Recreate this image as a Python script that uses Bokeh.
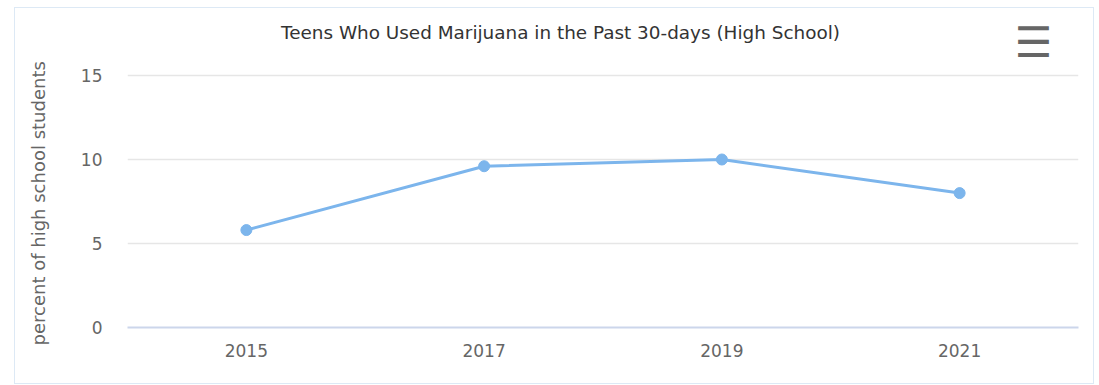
from bokeh.plotting import figure
from bokeh.models import ColumnDataSource, FixedTicker, Label, Range1d, Title
from bokeh.embed import file_html
from bokeh.resources import INLINE

years = ["2015", "2017", "2019", "2021"]
percent = [5.8, 9.6, 10.0, 8.0]
y_ticks = [0, 5, 10, 15]
title_text = "Teens Who Used Marijuana in the Past 30-days (High School)"
y_label = "percent of high school students"

FONT = "DejaVu Sans"
src = ColumnDataSource(dict(year=years, pct=percent))

# frame extended upward so the title and menu icon sit inside it;
# 15 stays 252px above 0, frame is 309px tall
y_top = 15 * 309 / 252

p = figure(x_range=years, y_range=Range1d(0, y_top), width=1080, height=377,
           output_backend="svg", toolbar_location=None, tools="",
           min_border_left=110, min_border_right=17, min_border_top=10, min_border_bottom=58)
p.styles = {"border": "1px solid #dde9f5", "margin-left": "14px", "margin-top": "7px"}
p.outline_line_color = None
p.background_fill_color = "white"
p.border_fill_color = "white"

p.line("year", "pct", source=src, line_color="#7cb5ec", line_width=3)
p.scatter("year", "pct", source=src, size=11, fill_color="#7cb5ec", line_color="#7cb5ec")

p.yaxis.ticker = FixedTicker(ticks=y_ticks)
p.yaxis.axis_line_color = None
p.yaxis.major_tick_line_color = None
p.yaxis.minor_tick_line_color = None
p.yaxis.major_label_text_font = FONT
p.yaxis.major_label_text_font_size = "17px"
p.yaxis.major_label_text_color = "#666666"
p.yaxis.major_label_standoff = 19
# tiny blank axis label: only widens the axis so the side title sits further left
p.yaxis.axis_label = "\u00a0"
p.yaxis.axis_label_text_font_size = "1px"
p.yaxis.axis_label_standoff = 15

# y-axis title as a side title, so it can be placed along the 0-15 span
ytitle = Title(text=y_label, align="left", offset=-18, standoff=20,
               text_font=FONT, text_font_size="18px", text_font_style="normal",
               text_color="#666666")
p.add_layout(ytitle, "left")

p.xaxis.axis_line_color = "#ccd6eb"
p.xaxis.axis_line_width = 2
p.xaxis.major_tick_line_color = None
p.xaxis.minor_tick_line_color = None
p.xaxis.major_label_text_font = FONT
p.xaxis.major_label_text_font_size = "17px"
p.xaxis.major_label_text_color = "#666666"
p.xaxis.major_label_standoff = 10

p.xgrid.grid_line_color = None
p.ygrid.grid_line_color = "#e6e6e6"
p.ygrid.grid_line_width = 1.5
p.ygrid.ticker = FixedTicker(ticks=y_ticks)

title = Label(x=433, y=295, x_units="screen", y_units="screen", text=title_text,
              text_font=FONT, text_font_size="18.4px", text_color="#333333",
              text_align="center", text_baseline="middle")
p.add_layout(title)

menu = Label(x=906, y=285, x_units="screen", y_units="screen", text="\u2630",
             text_font=FONT, text_font_size="42px", text_color="#666666",
             text_align="center", text_baseline="middle")
p.add_layout(menu)

open("out.html", "w").write(file_html(p, INLINE))
